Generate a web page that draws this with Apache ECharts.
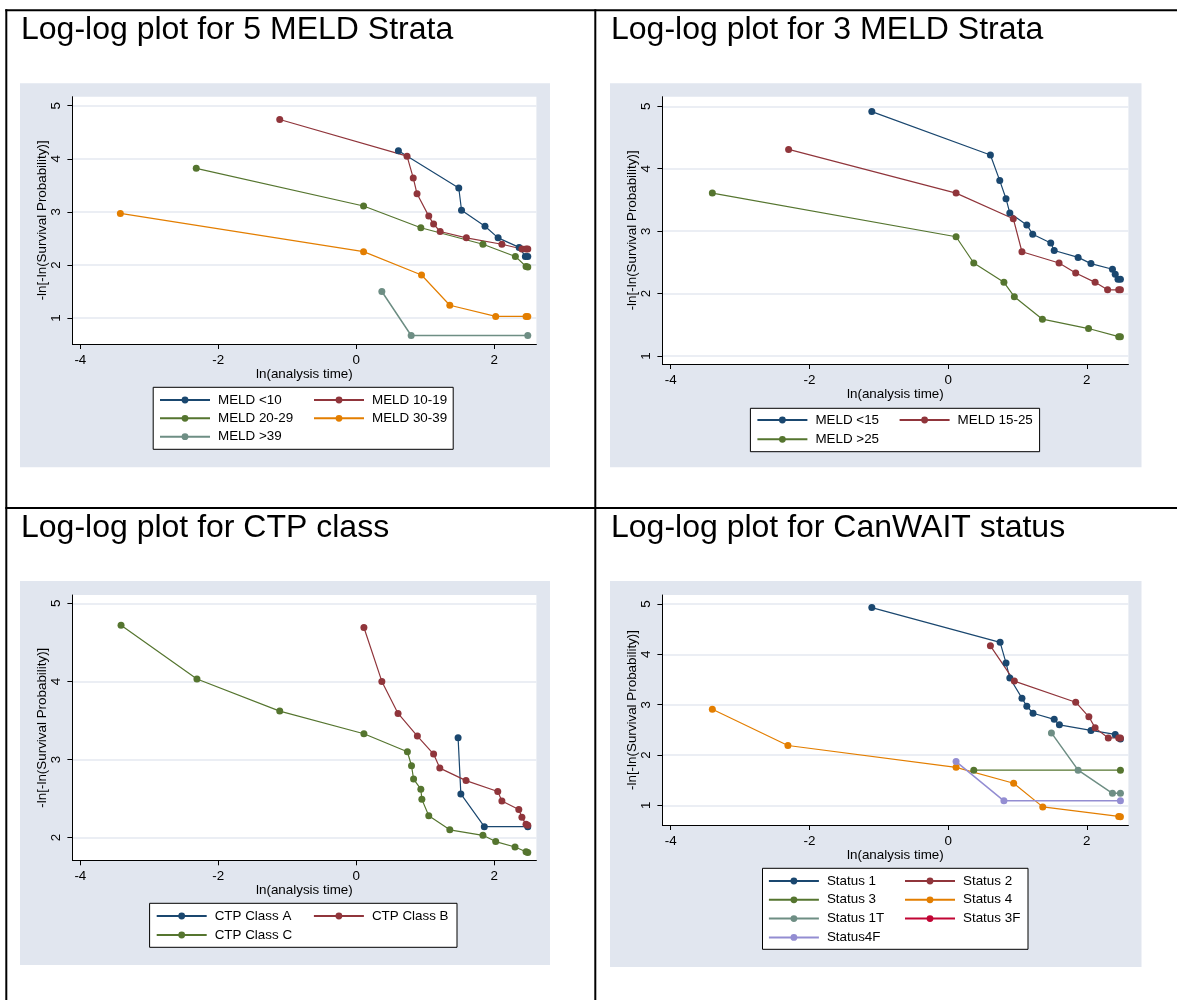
<!DOCTYPE html>
<html>
<head>
<meta charset="utf-8">
<script src="https://cdn.jsdelivr.net/npm/echarts@6/dist/echarts.min.js"></script>
<style>
  html, body { margin: 0; padding: 0; background: #ffffff; }
  #chart { width: 1177px; height: 1000px; }
</style>
</head>
<body>
<div id="chart"></div>
<script>
// ---- tick values ----
const xTicks = [-4, -2, 0, 2];
const yTicksMeld5 = [1, 2, 3, 4, 5];
const yTicksMeld3 = [1, 2, 3, 4, 5];
const yTicksCtp = [2, 3, 4, 5];
const yTicksStatus = [1, 2, 3, 4, 5];

// ---- 5 MELD strata: [ln(analysis time), -ln(-ln(S))] ----
const meld5Names = ['MELD <10', 'MELD 10-19', 'MELD 20-29', 'MELD 30-39', 'MELD >39'];
const meldLt10 = [[0.61, 4.15], [1.485, 3.45], [1.525, 3.03], [1.865, 2.73], [2.055, 2.51], [2.36, 2.33], [2.45, 2.16], [2.485, 2.16]];
const meld10to19 = [[-1.11, 4.74], [0.735, 4.05], [0.825, 3.64], [0.88, 3.34], [1.05, 2.92], [1.12, 2.77], [1.215, 2.63], [1.595, 2.51], [2.11, 2.39], [2.40, 2.30], [2.46, 2.30], [2.485, 2.30]];
const meld20to29 = [[-2.32, 3.82], [0.105, 3.11], [0.935, 2.70], [1.835, 2.39], [2.305, 2.16], [2.46, 1.97], [2.485, 1.96]];
const meld30to39 = [[-3.42, 2.97], [0.105, 2.25], [0.945, 1.81], [1.355, 1.24], [2.02, 1.03], [2.46, 1.03], [2.485, 1.03]];
const meldGt39 = [[0.37, 1.50], [0.795, 0.67], [2.485, 0.67]];

// ---- 3 MELD strata ----
const meld3Names = ['MELD <15', 'MELD 15-25', 'MELD >25'];
const meldLt15 = [[-1.10, 4.915], [0.61, 4.22], [0.745, 3.81], [0.835, 3.52], [0.89, 3.29], [1.135, 3.10], [1.22, 2.95], [1.48, 2.81], [1.53, 2.69], [1.875, 2.58], [2.06, 2.48], [2.37, 2.39], [2.41, 2.31], [2.45, 2.23], [2.485, 2.23]];
const meld15to25 = [[-2.30, 4.31], [0.115, 3.61], [0.94, 3.20], [1.065, 2.67], [1.60, 2.49], [1.84, 2.33], [2.12, 2.18], [2.30, 2.06], [2.46, 2.06], [2.485, 2.06]];
const meldGt25 = [[-3.40, 3.61], [0.115, 2.91], [0.37, 2.49], [0.805, 2.18], [0.955, 1.95], [1.36, 1.59], [2.025, 1.44], [2.46, 1.31], [2.485, 1.31]];

// ---- CTP class ----
const ctpNames = ['CTP Class A', 'CTP Class B', 'CTP Class C'];
const ctpA = [[1.475, 3.28], [1.515, 2.56], [1.855, 2.14], [2.485, 2.14]];
const ctpB = [[0.11, 4.69], [0.37, 4.00], [0.605, 3.59], [0.885, 3.30], [1.12, 3.07], [1.21, 2.89], [1.59, 2.73], [2.05, 2.59], [2.11, 2.47], [2.355, 2.36], [2.40, 2.26], [2.46, 2.17], [2.485, 2.16]];
const ctpC = [[-3.41, 4.72], [-2.31, 4.03], [-1.11, 3.62], [0.11, 3.33], [0.74, 3.10], [0.80, 2.92], [0.83, 2.75], [0.935, 2.62], [0.95, 2.49], [1.05, 2.28], [1.355, 2.10], [1.835, 2.03], [2.02, 1.95], [2.30, 1.88], [2.46, 1.82], [2.485, 1.81]];

// ---- CanWAIT status ----
const statusNames = ['Status 1', 'Status 2', 'Status 3', 'Status 4', 'Status 1T', 'Status 3F', 'Status4F'];
const status1 = [[-1.10, 4.93], [0.75, 4.24], [0.835, 3.83], [0.89, 3.53], [1.065, 3.13], [1.135, 2.97], [1.225, 2.83], [1.53, 2.71], [1.605, 2.60], [2.06, 2.49], [2.41, 2.41], [2.485, 2.32]];
const status2 = [[0.61, 4.17], [0.955, 3.47], [1.84, 3.05], [2.03, 2.76], [2.12, 2.54], [2.31, 2.34], [2.46, 2.34], [2.485, 2.34]];
const status3 = [[0.37, 1.70], [2.485, 1.70]];
const status4 = [[-3.40, 2.91], [-2.31, 2.19], [0.115, 1.755], [0.945, 1.44], [1.365, 0.97], [2.46, 0.78], [2.485, 0.775]];
const status1T = [[1.49, 2.44], [1.875, 1.70], [2.37, 1.24], [2.485, 1.24]];
const status3F = [];
const status4F = [[0.115, 1.87], [0.805, 1.09], [2.485, 1.09]];

// Stata s2color palette
const NAVY = '#1a476f', MAROON = '#90353b', GREEN = '#55752f', ORANGE = '#e37e00',
      TEAL = '#6e8e84', CRANBERRY = '#c10534', LAVENDER = '#938dd2';

const FONT = '"Liberation Sans", Arial, Helvetica, sans-serif';
const BG = '#e1e6ef';
const FS = 13.4;

// panel layout: plot box, axis ranges, legend columns
const panels = [
  {
    title: 'Log-log plot for 5 MELD Strata', tx: 21, ty: 30.5,
    bg: [20, 83.3, 530, 384],
    grid: { left: 72.4, top: 96.7, width: 464, height: 247.3 },
    xRange: [-4.115, 2.61], yRange: [0.51, 5.17], yTicks: yTicksMeld5,
    names: meld5Names,
    data: [meldLt10, meld10to19, meld20to29, meld30to39, meldGt39],
    colors: [NAVY, MAROON, GREEN, ORANGE, TEAL],
    legendBox: [153.2, 387.3, 300, 62],
    legendRow0: 400, legendStep: 18.35, legendCols: [159, 313]
  },
  {
    title: 'Log-log plot for 3 MELD Strata', tx: 611, ty: 30.5,
    bg: [610, 83.3, 531.5, 384],
    grid: { left: 662.4, top: 96.7, width: 466, height: 267.3 },
    xRange: [-4.12, 2.60], yRange: [0.872, 5.154], yTicks: yTicksMeld3,
    names: meld3Names,
    data: [meldLt15, meld15to25, meldGt25],
    colors: [NAVY, MAROON, GREEN],
    legendBox: [750.4, 408.3, 289.2, 43.4],
    legendRow0: 420, legendStep: 19.3, legendCols: [756.4, 898.6]
  },
  {
    title: 'Log-log plot for CTP class', tx: 21, ty: 528.5,
    bg: [20, 581, 530, 384],
    grid: { left: 72.4, top: 595, width: 464, height: 265.3 },
    xRange: [-4.115, 2.61], yRange: [1.71, 5.106], yTicks: yTicksCtp,
    names: ctpNames,
    data: [ctpA, ctpB, ctpC],
    colors: [NAVY, MAROON, GREEN],
    legendBox: [149.6, 903.3, 307.4, 44],
    legendRow0: 916, legendStep: 19, legendCols: [155.7, 312.9]
  },
  {
    title: 'Log-log plot for CanWAIT status', tx: 611, ty: 528.5,
    bg: [610, 581, 531.5, 386],
    grid: { left: 662.4, top: 595, width: 466, height: 230 },
    xRange: [-4.12, 2.60], yRange: [0.61, 5.18], yTicks: yTicksStatus,
    names: statusNames,
    data: [status1, status2, status3, status4, status1T, status3F, status4F],
    colors: [NAVY, MAROON, GREEN, ORANGE, TEAL, CRANBERRY, LAVENDER],
    legendBox: [762.5, 868.3, 265.5, 81],
    legendRow0: 881, legendStep: 18.8, legendCols: [767.9, 904]
  }
];

const grids = [], xAxes = [], yAxes = [], series = [], legends = [], graphics = [];

// table rules
const rule = (x1, y1, x2, y2) => ({
  type: 'line', z: 10, silent: true,
  shape: { x1, y1, x2, y2 }, style: { stroke: '#000', lineWidth: 2 }
});
graphics.push(rule(5.3, 10.3, 1177, 10.3));
graphics.push(rule(6.3, 9.3, 6.3, 1000));
graphics.push(rule(595.3, 9.3, 595.3, 1000));
graphics.push(rule(5.3, 508, 1177, 508));

const LEGEND_ROW_H = 14;

panels.forEach((p, i) => {
  // graph region background
  graphics.push({
    type: 'rect', z: -1, silent: true,
    shape: { x: p.bg[0], y: p.bg[1], width: p.bg[2], height: p.bg[3] },
    style: { fill: BG }
  });
  // panel heading
  graphics.push({
    type: 'text', z: 10, silent: true, x: p.tx, y: p.ty,
    style: {
      text: p.title, fill: '#000', font: '32px ' + FONT,
      align: 'left', verticalAlign: 'middle', textAlign: 'left', textVerticalAlign: 'middle'
    }
  });
  // legend frame
  graphics.push({
    type: 'rect', z: 3, silent: true,
    shape: { x: p.legendBox[0], y: p.legendBox[1], width: p.legendBox[2], height: p.legendBox[3] },
    style: { fill: '#fff', stroke: '#000', lineWidth: 1 }
  });

  grids.push(Object.assign({
    show: true, backgroundColor: '#fff', borderWidth: 0, containLabel: false
  }, p.grid));

  xAxes.push({
    gridIndex: i, type: 'value', min: p.xRange[0], max: p.xRange[1],
    name: 'ln(analysis time)', nameLocation: 'middle', nameGap: 23,
    nameTextStyle: { fontSize: FS, color: '#000', fontFamily: FONT },
    axisLine: { show: true, onZero: false, lineStyle: { color: '#000', width: 1 } },
    axisTick: { show: true, customValues: xTicks, length: 5, lineStyle: { color: '#000', width: 1 } },
    axisLabel: { customValues: xTicks, margin: 10, fontSize: FS, color: '#000', fontFamily: FONT },
    splitLine: { show: false }
  });

  yAxes.push({
    gridIndex: i, type: 'value', min: p.yRange[0], max: p.yRange[1],
    name: '-ln[-ln(Survival Probability)]', nameLocation: 'middle', nameGap: 22.5, nameRotate: 90,
    nameTextStyle: { fontSize: FS, color: '#000', fontFamily: FONT },
    axisLine: { show: true, onZero: false, lineStyle: { color: '#000', width: 1 } },
    axisTick: { show: true, customValues: p.yTicks, length: 5, lineStyle: { color: '#000', width: 1 } },
    axisLabel: { customValues: p.yTicks, rotate: 90, margin: 10, fontSize: FS, color: '#000', fontFamily: FONT },
    splitLine: { show: true, lineStyle: { color: '#e4e9f1', width: 1.5 } }
  });

  p.names.forEach((name, k) => {
    series.push({
      type: 'line', name, xAxisIndex: i, yAxisIndex: i,
      data: p.data[k],
      symbol: 'circle', symbolSize: 7, showSymbol: true,
      lineStyle: { color: p.colors[k], width: (p.colors[k] === LAVENDER || p.colors[k] === TEAL) ? 1.5 : 1.2 },
      itemStyle: { color: p.colors[k] },
      emphasis: { disabled: true }, silent: true, animation: false
    });
  });

  // legend columns (two per panel, items alternate left/right)
  p.legendCols.forEach((colX, c) => {
    const names = p.names.filter((_, k) => k % 2 === c);
    legends.push({
      orient: 'vertical', left: colX, top: p.legendRow0 - LEGEND_ROW_H / 2,
      padding: 0, itemGap: p.legendStep - LEGEND_ROW_H,
      itemWidth: 50, itemHeight: 8.5, selectedMode: false, z: 5,
      data: names,
      textStyle: { fontSize: FS, color: '#000', fontFamily: FONT, lineHeight: LEGEND_ROW_H, padding: [0, 0, 0, 3] }
    });
  });
});

const chart = echarts.init(document.getElementById('chart'), null, { renderer: 'canvas' });
chart.setOption({
  backgroundColor: '#fff',
  animation: false,
  grid: grids,
  xAxis: xAxes,
  yAxis: yAxes,
  legend: legends,
  series,
  graphic: { elements: graphics }
});
</script>
</body>
</html>
